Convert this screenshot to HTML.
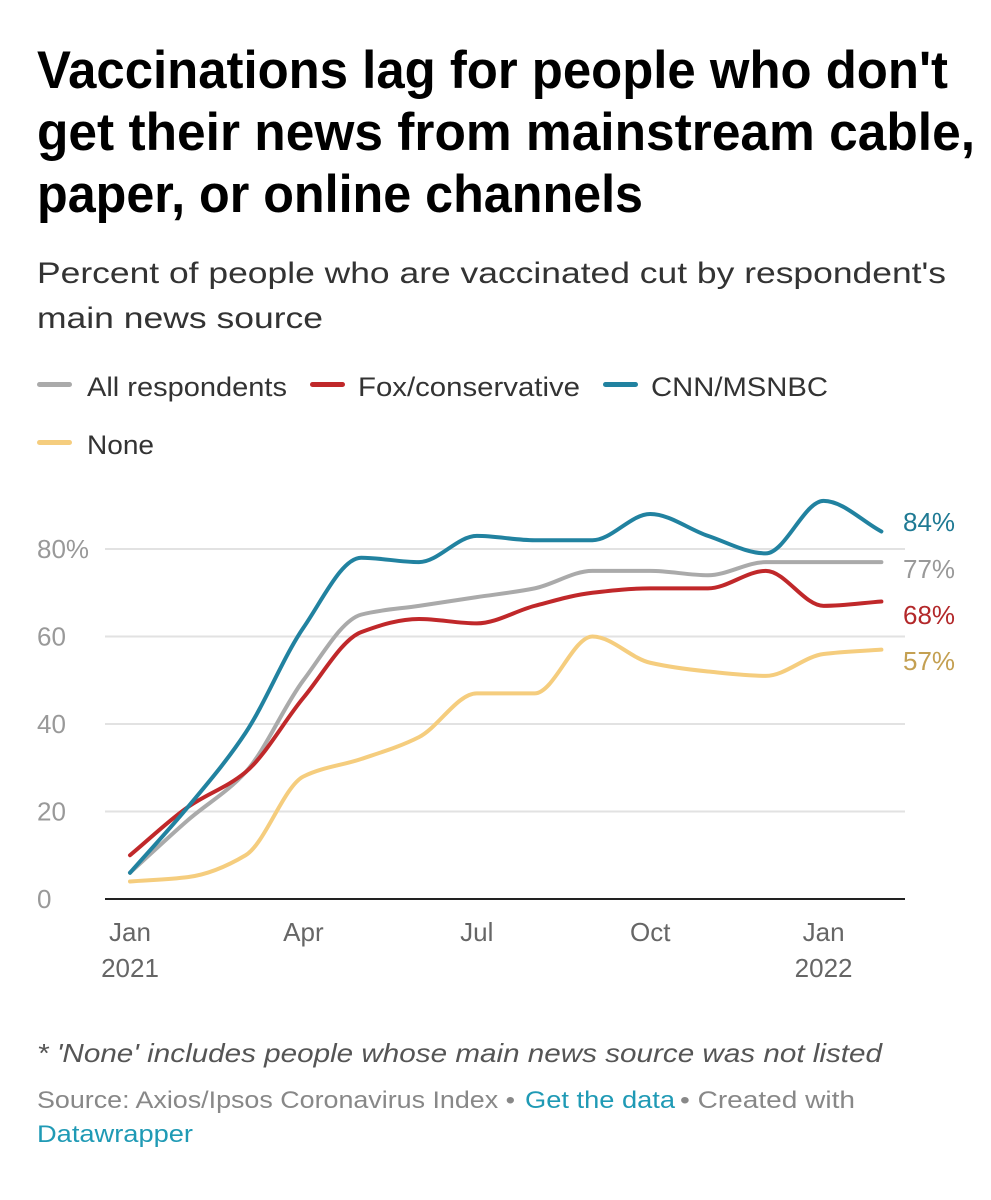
<!DOCTYPE html>
<html><head><meta charset="utf-8"><style>
html,body{margin:0;padding:0;background:#fff;}
svg{display:block;font-family:"Liberation Sans",sans-serif;}
</style></head><body>
<svg id="chart" width="991" height="1200" viewBox="0 0 991 1200" xmlns="http://www.w3.org/2000/svg">
<rect width="991" height="1200" fill="#fff"/>
<g font-weight="bold" font-size="53" fill="#000">
<text x="37" y="88" textLength="911" lengthAdjust="spacingAndGlyphs">Vaccinations lag for people who don't</text>
<text x="37" y="150" textLength="938" lengthAdjust="spacingAndGlyphs">get their news from mainstream cable,</text>
<text x="37" y="212" textLength="606" lengthAdjust="spacingAndGlyphs">paper, or online channels</text>
</g>
<g font-size="30" fill="#333">
<text x="37" y="283" textLength="909" lengthAdjust="spacingAndGlyphs">Percent of people who are vaccinated cut by respondent's</text>
<text x="37" y="328" textLength="286" lengthAdjust="spacingAndGlyphs">main news source</text>
</g>
<g font-size="27" fill="#333">
<g><rect x="37" y="382" width="35" height="5" rx="2.5" fill="#aaaaaa"/><text x="87" y="396" textLength="200" lengthAdjust="spacingAndGlyphs">All respondents</text></g>
<g><rect x="310" y="382" width="35" height="5" rx="2.5" fill="#c0282a"/><text x="358" y="396" textLength="222" lengthAdjust="spacingAndGlyphs">Fox/conservative</text></g>
<g><rect x="603" y="382" width="35" height="5" rx="2.5" fill="#2182a0"/><text x="651" y="396" textLength="177" lengthAdjust="spacingAndGlyphs">CNN/MSNBC</text></g>
<g><rect x="37" y="440" width="35" height="5" rx="2.5" fill="#f5cd7e"/><text x="87" y="454" textLength="67" lengthAdjust="spacingAndGlyphs">None</text></g>
</g>
<g id="grid"></g>
<g id="yticks" font-size="26" fill="#999"></g>
<g id="xticks" font-size="26" fill="#666" text-anchor="middle"></g>
<g id="lines"></g>
<g id="endlabels" font-size="26"></g>
<line x1="105" x2="905" y1="899" y2="899" stroke="#222" stroke-width="2"/>
<text x="37" y="1062" font-size="26" font-style="italic" fill="#555" textLength="845" lengthAdjust="spacingAndGlyphs">* 'None' includes people whose main news source was not listed</text>
<g font-size="24" fill="#888">
<text x="37" y="1108" textLength="478" lengthAdjust="spacingAndGlyphs">Source: Axios/Ipsos Coronavirus Index •</text>
<text x="525" y="1108" fill="#1f9ab5" textLength="150" lengthAdjust="spacingAndGlyphs">Get the data</text>
<text x="680" y="1108" textLength="175" lengthAdjust="spacingAndGlyphs">• Created with</text>
<text x="37" y="1142" fill="#1f9ab5" textLength="156" lengthAdjust="spacingAndGlyphs">Datawrapper</text>
</g>
</svg>
<script>
const months = [0,1,2,3,4,5,6,7,8,9,10,11,12,13];
const allResp = [6,18,29,50,65,67,69,71,75,75,74,77,77,77];
const foxCons = [10,21,29,46,61,64,63,67,70,71,71,75,67,68];
const cnnMsnbc = [6,21,38,62,78,77,83,82,82,88,83,79,91,84];
const noneSrc = [4,5,10,28,32,37,47,47,60,54,52,51,56,57];
const yTickVals = [0,20,40,60,80];
const yTickLabels = ["0","20","40","60","80%"];
const xTickMonths = [0,3,6,9,12];
const xTickLabels = ["Jan","Apr","Jul","Oct","Jan"];
const xTickYears = ["2021","","","","2022"];
const endLabels = ["77%","68%","84%","57%"];

const NS="http://www.w3.org/2000/svg";
const xS = m => 130 + m*57.8;
const yS = v => 899 - v*4.375;
function mk(tag, attrs, parent){const e=document.createElementNS(NS,tag);for(const k in attrs)e.setAttribute(k,attrs[k]);parent.appendChild(e);return e;}
const grid=document.getElementById('grid'), yt=document.getElementById('yticks'), xt=document.getElementById('xticks');
yTickVals.forEach((v,i)=>{
  if(v>0){const l=mk('line',{x1:105,x2:905,y1:yS(v),y2:yS(v),stroke:'#e2e2e2','stroke-width':2},grid);
  
  }
  const t=mk('text',{x:37,y:yS(v)+9},yt);t.textContent=yTickLabels[i];
  
  
});
xTickMonths.forEach((m,i)=>{
  const t=mk('text',{x:xS(m),y:941},xt);t.textContent=xTickLabels[i];
  
  
  if(xTickYears[i]){const y=mk('text',{x:xS(m),y:977},xt);y.textContent=xTickYears[i];
  
  }
});
function monotone(xs,ys){
  const n=xs.length,d=[],m=new Array(n);
  for(let i=0;i<n-1;i++)d.push((ys[i+1]-ys[i])/(xs[i+1]-xs[i]));
  m[0]=d[0];m[n-1]=d[n-2];
  for(let i=1;i<n-1;i++){m[i]=(d[i-1]*d[i]<=0)?0:2/(1/d[i-1]+1/d[i]);}
  let p=`M${xs[0]},${ys[0]}`;
  for(let i=0;i<n-1;i++){const h=(xs[i+1]-xs[i])/3;p+=` C${xs[i]+h},${ys[i]+m[i]*h} ${xs[i+1]-h},${ys[i+1]-m[i+1]*h} ${xs[i+1]},${ys[i+1]}`;}
  return p;
}
const series=[["all-respondents-line",allResp,"#aaaaaa","#999999"],["fox-conservative-line",foxCons,"#c0282a","#b3282a"],["cnn-msnbc-line",cnnMsnbc,"#2182a0","#1f7a94"],["none-line",noneSrc,"#f5cd7e","#c4a052"]];
const lg=document.getElementById('lines'), el=document.getElementById('endlabels');
series.forEach((s,i)=>{
  const xs=months.map(xS), ys=s[1].map(yS);
  const p=mk('path',{d:monotone(xs,ys),fill:'none',stroke:s[2],'stroke-width':4,'stroke-linecap':'round','stroke-linejoin':'round'},lg);
  
  
});
const endY=[578,624,531,670];
series.forEach((s,i)=>{
  const t=mk('text',{x:903,y:endY[i],fill:s[3]},el);t.textContent=endLabels[i];
  
  
});
</script>
</body></html>
